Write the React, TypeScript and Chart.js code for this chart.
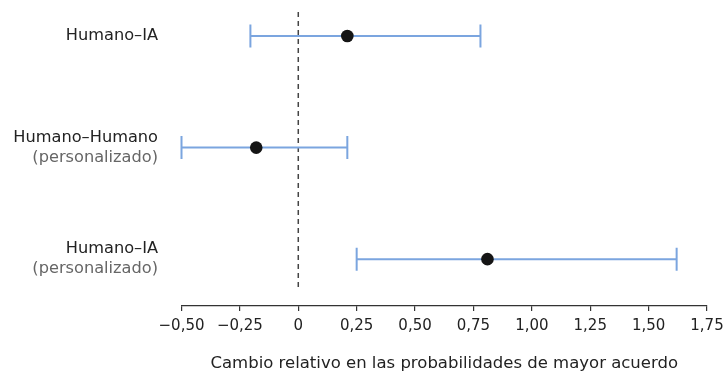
import React, { useEffect, useRef } from "react";
import { Chart, registerables } from "chart.js";

Chart.register(...registerables);

const categories = ["Humano–IA", "Humano–Humano", "Humano–IA"];
const subLabels = ["", "(personalizado)", "(personalizado)"];
const estimates = [0.21, -0.18, 0.81];
const lower = [-0.205, -0.5, 0.25];
const upper = [0.78, 0.21, 1.62];
const xTickMin = -0.5;
const xTickMax = 1.75;
const xTickStep = 0.25;
const xTitle = "Cambio relativo en las probabilidades de mayor acuerdo";

const FONT = "'DejaVu Sans', 'Noto Sans', sans-serif";
const BAR_COLOR = "#7ba5df";

const forestPlugin = {
  id: "forest",
  beforeDatasetsDraw(chart: any) {
    const { ctx, chartArea, scales } = chart;
    const xs = scales.x;
    const ys = scales.y;
    ctx.save();
    // zero reference line
    const x0 = xs.getPixelForValue(0);
    ctx.strokeStyle = "#444";
    ctx.lineWidth = 1.5;
    ctx.setLineDash([5, 4]);
    ctx.beginPath();
    ctx.moveTo(x0, chartArea.top + 12);
    ctx.lineTo(x0, chartArea.bottom - 17);
    ctx.stroke();
    ctx.setLineDash([]);
    // error bars
    ctx.strokeStyle = BAR_COLOR;
    ctx.lineWidth = 2;
    const cap = 11.5;
    for (let i = 0; i < categories.length; i++) {
      const y = ys.getPixelForValue(i);
      const xl = xs.getPixelForValue(lower[i]);
      const xh = xs.getPixelForValue(upper[i]);
      ctx.beginPath();
      ctx.moveTo(xl, y);
      ctx.lineTo(xh, y);
      ctx.moveTo(xl, y - cap);
      ctx.lineTo(xl, y + cap);
      ctx.moveTo(xh, y - cap);
      ctx.lineTo(xh, y + cap);
      ctx.stroke();
    }
    ctx.restore();
  },
  afterDraw(chart: any) {
    const { ctx, scales } = chart;
    const ys = scales.y;
    const xRight = 158;
    ctx.save();
    ctx.font = `16.2px ${FONT}`;
    ctx.textAlign = "right";
    ctx.textBaseline = "middle";
    for (let i = 0; i < categories.length; i++) {
      const y = ys.getPixelForValue(i);
      if (subLabels[i]) {
        ctx.fillStyle = "#222";
        ctx.fillText(categories[i], xRight, y - 10);
        ctx.fillStyle = "#666";
        ctx.fillText(subLabels[i], xRight, y + 10);
      } else {
        ctx.fillStyle = "#222";
        ctx.fillText(categories[i], xRight, y);
      }
    }
    ctx.restore();
  },
};

function fmt(v: number): string {
  if (Math.abs(v) < 1e-9) return "0";
  return v.toFixed(2).replace(".", ",").replace("-", "\u2212");
}

export default function App() {
  const ref = useRef<HTMLCanvasElement | null>(null);
  useEffect(() => {
    if (!ref.current) return;
    const chart = new Chart(ref.current, {
      type: "scatter",
      data: {
        datasets: [
          {
            data: estimates.map((v, i) => ({ x: v, y: i })),
            pointRadius: 6.3,
            pointHoverRadius: 6.3,
            backgroundColor: "#151515",
            borderWidth: 0,
          },
        ],
      },
      options: {
        responsive: false,
        animation: false,
        events: [],
        layout: { autoPadding: false, padding: { left: 181.5, right: 17, top: 0, bottom: 0 } },
        plugins: { legend: { display: false }, tooltip: { enabled: false } },
        scales: {
          x: {
            type: "linear",
            min: xTickMin,
            max: xTickMax,
            afterFit: (scale: any) => {
              scale.height = 68;
              scale.paddingLeft = 0;
              scale.paddingRight = 0;
            },
            ticks: {
              stepSize: xTickStep,
              callback: (v: any) => fmt(Number(v)),
              font: { family: FONT, size: 15 },
              color: "#222",
              padding: 6,
              maxRotation: 0,
              autoSkip: false,
            },
            grid: {
              drawOnChartArea: false,
              drawTicks: true,
              tickLength: 5,
              color: "#333",
              lineWidth: 1.2,
            },
            border: { display: true, color: "#333", width: 1.2 },
            title: {
              display: true,
              text: xTitle,
              font: { family: FONT, size: 16.5 },
              color: "#222",
              padding: { top: 19, bottom: 0 },
            },
          },
          y: {
            type: "linear",
            display: false,
            reverse: true,
            min: -0.323,
            max: 2.42,
          },
        },
      },
      plugins: [forestPlugin],
    });
    return () => chart.destroy();
  }, []);
  return (
    <div style={{ position: "fixed", left: 0, top: 0, width: 724, height: 374, background: "#fff" }}>
      <canvas ref={ref} width={724} height={374} style={{ display: "block" }} />
    </div>
  );
}
